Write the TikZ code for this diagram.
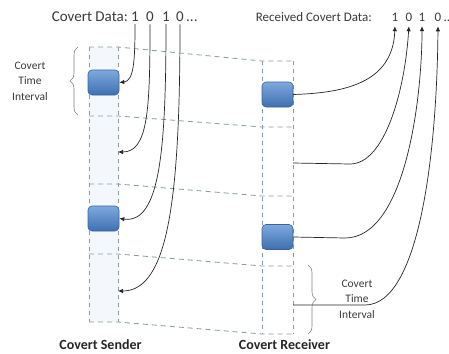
\documentclass[tikz,border=0pt]{standalone}
\usepackage{fontspec}
\setmainfont{Carlito}
\usetikzlibrary{decorations.pathreplacing,arrows.meta}

\definecolor{gridline}{HTML}{8A99AE}
\definecolor{labeltext}{HTML}{3A3A3A}
\definecolor{boxtop}{HTML}{7DA9DE}
\definecolor{boxbot}{HTML}{3F6FB0}
\definecolor{boxedge}{HTML}{3A6399}
\definecolor{lanefill}{HTML}{F4F8FC}

\begin{document}
\begin{tikzpicture}[x=1pt,y=-1pt,
  slot/.style={draw=gridline, dash pattern=on 5pt off 4pt, line width=0.8pt},
  lane/.style={draw=gridline, dash pattern=on 4pt off 4pt, line width=0.8pt},
  packet/.style={rectangle, rounded corners=4pt, minimum width=31pt, minimum height=25pt,
    top color=boxtop, bottom color=boxbot, draw=boxedge, line width=0.6pt, inner sep=0pt},
  bitline/.style={draw=black!85, line width=0.7pt},
  bitarrow/.style={bitline, -{Latex[length=5pt,width=4.5pt]}},
  intervalbrace/.style={draw=black!50, line width=0.6pt, decorate, decoration={brace, amplitude=8pt}},
  intervaltext/.style={font=\fontsize{11.5}{15.5}\selectfont, text=labeltext, align=center},
  sendtext/.style={font=\fontsize{15}{18}\selectfont, text=labeltext, inner sep=2pt},
  recvtext/.style={font=\fontsize{13}{16}\selectfont, text=labeltext, inner sep=2pt},
  partytext/.style={font=\fontsize{14}{17}\selectfont\bfseries, text=black!85, inner sep=0pt}
]
\useasboundingbox (0,0) rectangle (449,353);

% sender lane background
\fill[lanefill] (89,47) rectangle (118,322);

% time slots, horizontal inside each lane and slanted in between
\foreach \ys/\yr in {47/61, 116/127, 184/196, 254/266, 322/334}
  \draw[slot] (89,\ys) -- (118,\ys) -- (262,\yr) -- (293,\yr);

% lane borders
\draw[lane] (89,47) -- (89,322);
\draw[lane] (118,47) -- (118,322);
\draw[lane] (262,61) -- (262,334);
\draw[lane] (293,61) -- (293,334);

% packets
\node[packet] (sbox1) at (103.5,82.5) {};
\node[packet] (sbox2) at (103.5,218.5) {};
\node[packet] (rbox1) at (277.5,94.5) {};
\node[packet] (rbox2) at (277.5,237) {};

% idle slot points on the lane borders
\coordinate (s2) at (118,152);
\coordinate (s4) at (118,291);
\coordinate (r2) at (293,163);
\coordinate (r4) at (293,305);

% covert data sent
\node[sendtext, anchor=base east] (sdlabel) at (130,22) {Covert Data:};
\node[sendtext, anchor=base] (d1) at (135,22) {1};
\node[sendtext, anchor=base] (d2) at (150,22) {0};
\node[sendtext, anchor=base] (d3) at (166,22) {1};
\node[sendtext, anchor=base] (d4) at (180,22) {0};
\node[sendtext, anchor=base west, inner sep=0pt] (d4dots) at (d4.base east) {...};

% covert data received
\node[recvtext, anchor=base east] (rdlabel) at (374,22) {Received Covert Data:};
\node[recvtext, anchor=base] (rd1) at (395,22) {1};
\node[recvtext, anchor=base] (rd2) at (409,22) {0};
\node[recvtext, anchor=base] (rd3) at (422,22) {1};
\node[recvtext, anchor=base] (rd4) at (438,22) {0};
\node[recvtext, anchor=base west, inner sep=0pt] (rd4dots) at (rd4.base east) {..};

% bits driving the sender
\draw[bitarrow] (d1.south) .. controls (135,60) and (134,81) .. (sbox1.east);
\draw[bitarrow] (d2.south) .. controls (150,110) and (148,152) .. (s2);
\draw[bitarrow] (d3.south) .. controls (166,150) and (160,224) .. (sbox2.east);
\draw[bitarrow] (d4.south) .. controls (180,200) and (168,291) .. (s4);

% bits recovered at the receiver
\draw[bitarrow, shorten >=2pt] (rbox1.east) .. controls (340,93) and (393,85) .. (rd1.south);
\draw[bitarrow, shorten >=2pt] (r2) -- (350,164) .. controls (385,164) and (405,90) .. (rd2.south);
\draw[bitarrow, shorten >=2pt] (rbox2.east) -- (345,238) .. controls (405,238) and (422,100) .. (rd3.south);
\draw[bitarrow, shorten >=2pt] (r4) -- (365,305) .. controls (420,305) and (437,150) .. (rd4.south);

% covert time interval markers
\draw[intervalbrace] (78,115) -- (78,47);
\node[intervaltext] (lint) at (30,81) {Covert\\Time\\Interval};
\draw[intervalbrace] (308,265) -- (308,334);
\node[intervaltext] (rint) at (357,299) {Covert\\Time\\Interval};

% party names
\node[partytext, anchor=base] (sender) at (100.5,349) {Covert Sender};
\node[partytext, anchor=base] (receiver) at (284.5,349.5) {Covert Receiver};
\end{tikzpicture}
\end{document}
